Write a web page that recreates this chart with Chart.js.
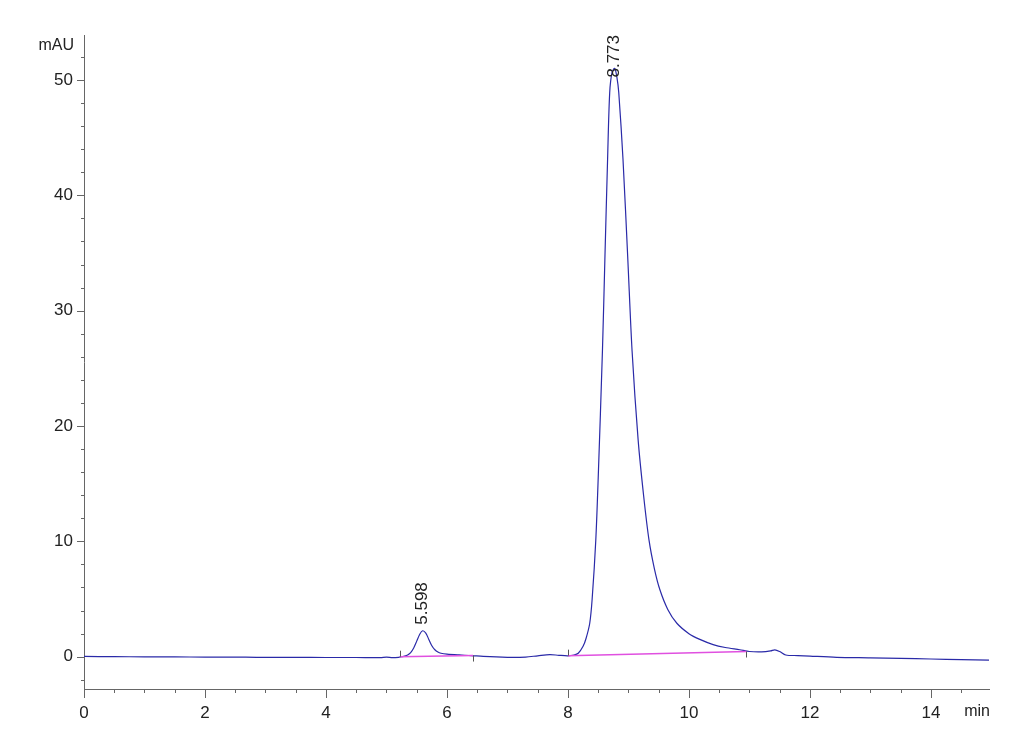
<!DOCTYPE html>
<html>
<head>
    <title>Chromatogram</title>
    <script src="https://cdn.jsdelivr.net/npm/chart.js"></script>
    <style>
        body { margin: 0; background: #fff; }
        #wrap { width: 1030px; height: 755px; position: relative; }
    </style>
</head>
<body>
    <div id="wrap"><canvas id="chrom"></canvas></div>
    <script>
        // retention time (min) and detector signal (mAU)
        const times = [0.00, 0.50, 1.00, 1.50, 2.00, 2.50, 2.85, 3.00, 3.50, 4.00, 4.50, 4.90, 5.00, 5.10, 5.20,
            5.25, 5.30, 5.35, 5.40, 5.45, 5.50, 5.55, 5.598, 5.65, 5.70, 5.75, 5.80, 5.85, 5.90, 6.00, 6.20, 6.40,
            6.60, 7.00, 7.30, 7.50, 7.70, 7.85, 8.00, 8.10, 8.17, 8.25, 8.30, 8.36, 8.40, 8.46, 8.50, 8.57, 8.61,
            8.655, 8.69, 8.73, 8.773, 8.81, 8.84, 8.91, 8.99, 9.06, 9.16, 9.25, 9.34, 9.43, 9.52, 9.65, 9.80, 10.00,
            10.18, 10.40, 10.60, 10.84, 11.00, 11.20, 11.35, 11.42, 11.50, 11.60, 11.80, 12.00, 12.44, 13.00, 13.50,
            14.00, 14.50, 14.96];
        const signal = [0.02, 0.00, -0.01, -0.02, -0.03, -0.03, -0.05, -0.05, -0.06, -0.07, -0.07, -0.08, -0.04, -0.08, -0.05,
            0.00, 0.05, 0.15, 0.35, 0.75, 1.35, 1.95, 2.25, 2.05, 1.50, 0.95, 0.60, 0.40, 0.30, 0.22, 0.15, 0.10,
            0.02, -0.05, -0.03, 0.08, 0.18, 0.12, 0.08, 0.15, 0.30, 0.90, 1.60, 2.90, 5.00, 10.1, 15.5, 26.5, 34.4,
            43.1, 48.9, 50.7, 51.0, 50.2, 48.9, 43.1, 34.4, 26.5, 18.8, 14.0, 10.1, 7.6, 5.8, 4.1, 2.9, 2.0,
            1.5, 1.05, 0.80, 0.60, 0.45, 0.42, 0.50, 0.60, 0.45, 0.15, 0.10, 0.05, -0.05, -0.10, -0.15,
            -0.20, -0.25, -0.30];

        // integrated peaks
        const peakTimes = [5.598, 8.773];
        const peakLabels = ['5.598', '8.773'];
        const baseStartT = [5.22, 8.00];
        const baseStartV = [0.00, 0.09];
        const baseEndT = [6.43, 10.95];
        const baseEndV = [0.10, 0.45];

        const xTickLabels = [0, 2, 4, 6, 8, 10, 12, 14];
        const yTickLabels = [0, 10, 20, 30, 40, 50];

        const tickFont = { family: "'Liberation Sans', Arial", size: 17 };
        const axisColor = '#666';
        const textColor = '#222';

        const traceData = times.map((t, i) => ({ x: t, y: signal[i] }));
        const baselineSets = baseStartT.map((t, i) => ({
            data: [{ x: t, y: baseStartV[i] }, { x: baseEndT[i], y: baseEndV[i] }],
            borderColor: '#e050e0',
            borderWidth: 1.5,
            pointRadius: 0,
            order: 0,
        }));

        // axis decorations, minor ticks, peak event marks and labels
        const chromPlugin = {
            id: 'chrom',
            afterDraw(chart) {
                const ctx = chart.ctx;
                const xs = chart.scales.x;
                const ys = chart.scales.y;
                const area = chart.chartArea;
                ctx.save();
                ctx.strokeStyle = axisColor;
                ctx.lineWidth = 1;

                // x ticks every 0.5 min, longer at labelled values
                for (let v = 0; v <= 14.9; v += 0.5) {
                    const px = Math.round(xs.getPixelForValue(v)) + 0.5;
                    const len = xTickLabels.includes(v) ? 9 : 4;
                    ctx.beginPath();
                    ctx.moveTo(px, area.bottom);
                    ctx.lineTo(px, area.bottom + len);
                    ctx.stroke();
                }
                // y ticks every 2 mAU
                for (let v = -2; v <= 52; v += 2) {
                    const py = Math.round(ys.getPixelForValue(v)) + 0.5;
                    const len = yTickLabels.includes(v) ? 7 : 3;
                    ctx.beginPath();
                    ctx.moveTo(area.left - len, py);
                    ctx.lineTo(area.left, py);
                    ctx.stroke();
                }

                // peak start / end marks
                ctx.strokeStyle = '#555';
                baseStartT.forEach((t, i) => {
                    const px = Math.round(xs.getPixelForValue(t)) + 0.5;
                    let py = ys.getPixelForValue(baseStartV[i]);
                    ctx.beginPath();
                    ctx.moveTo(px, py);
                    ctx.lineTo(px, py - 6);
                    ctx.stroke();
                    const qx = Math.round(xs.getPixelForValue(baseEndT[i])) + 0.5;
                    py = ys.getPixelForValue(baseEndV[i]);
                    ctx.beginPath();
                    ctx.moveTo(qx, py);
                    ctx.lineTo(qx, py + 6);
                    ctx.stroke();
                });

                // axis titles
                ctx.fillStyle = textColor;
                ctx.font = "16px 'Liberation Sans', Arial";
                ctx.textAlign = 'right';
                ctx.textBaseline = 'middle';
                ctx.fillText('mAU', area.left - 10, area.top + 11);
                ctx.fillText('min', area.right + 1, area.bottom + 23);

                // retention time labels, rotated
                ctx.font = "17px 'Liberation Sans', Arial";
                ctx.textAlign = 'left';
                peakTimes.forEach((t, i) => {
                    const px = xs.getPixelForValue(t);
                    const apex = signal[times.indexOf(t)];
                    const w = ctx.measureText(peakLabels[i]).width;
                    let py = ys.getPixelForValue(apex) - 6;
                    if (py - w < area.top) py = area.top + w;
                    ctx.save();
                    ctx.translate(px, py);
                    ctx.rotate(-Math.PI / 2);
                    ctx.fillText(peakLabels[i], 0, 0);
                    ctx.restore();
                });
                ctx.restore();
            }
        };

        new Chart(document.getElementById('chrom'), {
            type: 'line',
            data: {
                datasets: [
                    {
                        data: traceData,
                        borderColor: '#2a2aa8',
                        borderWidth: 1.2,
                        pointRadius: 0,
                        tension: 0.3,
                        order: 1,
                    },
                    ...baselineSets,
                ],
            },
            options: {
                responsive: true,
                maintainAspectRatio: false,
                animation: false,
                layout: { padding: { top: 35, right: 41, left: 0, bottom: 0 } },
                plugins: { legend: { display: false }, tooltip: { enabled: false } },
                scales: {
                    x: {
                        type: 'linear',
                        min: 0,
                        max: 14.96,
                        grid: { display: false },
                        border: { display: true, color: axisColor, width: 1 },
                        afterBuildTicks(scale) {
                            scale.ticks = xTickLabels.map(v => ({ value: v }));
                        },
                        afterFit(scale) { scale.height = 66; },
                        ticks: {
                            color: textColor,
                            font: tickFont,
                            padding: 6,
                            maxRotation: 0,
                            autoSkip: false,
                        },
                    },
                    y: {
                        min: -2.8,
                        max: 53.9,
                        grid: { display: false },
                        border: { display: true, color: axisColor, width: 1 },
                        afterBuildTicks(scale) {
                            scale.ticks = yTickLabels.map(v => ({ value: v }));
                        },
                        afterFit(scale) { scale.width = 84; },
                        ticks: {
                            color: textColor,
                            font: tickFont,
                            padding: 3,
                        },
                    },
                },
            },
            plugins: [chromPlugin],
        });
    </script>
</body>
</html>
